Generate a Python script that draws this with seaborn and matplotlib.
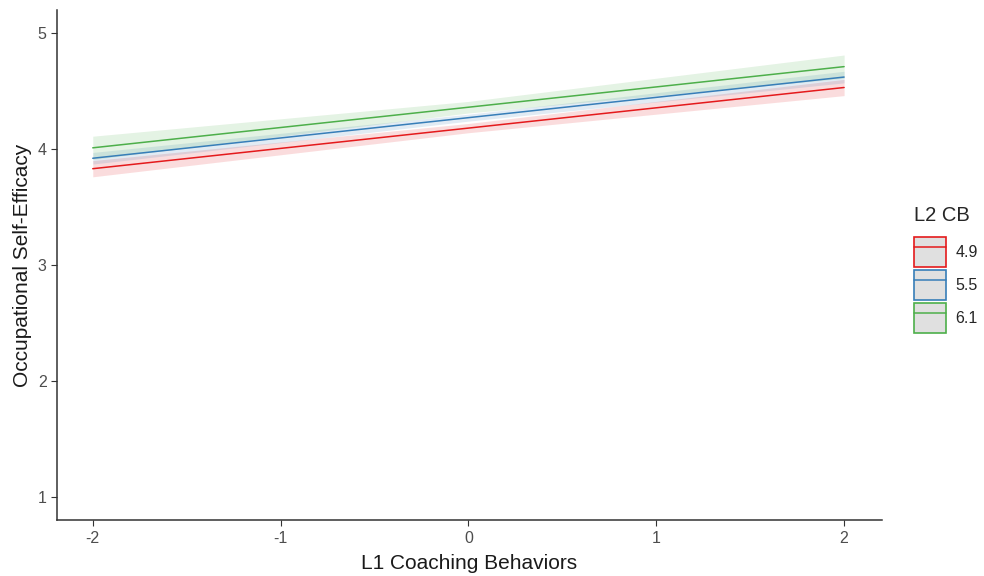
import numpy as np
import pandas as pd
import matplotlib
matplotlib.use("Agg")
import matplotlib.pyplot as plt
import seaborn as sns
from matplotlib.patches import Patch
from matplotlib.lines import Line2D

sns.set_style("white")
plt.rcParams['font.family'] = ['Liberation Sans', 'DejaVu Sans']
plt.rcParams['axes.unicode_minus'] = False

# predicted values at L1 coaching behaviours -2, 0, 2 for each L2 CB level
x_vals = [-2, 0, 2]
groups = ['4.9', '5.5', '6.1']
fit = {
    '4.9': [3.83, 4.18, 4.53],
    '5.5': [3.92, 4.27, 4.62],
    '6.1': [4.01, 4.36, 4.71],
}
lower = {
    '4.9': [3.76, 4.14, 4.46],
    '5.5': [3.87, 4.24, 4.57],
    '6.1': [3.91, 4.31, 4.61],
}
upper = {
    '4.9': [3.90, 4.22, 4.60],
    '5.5': [3.97, 4.30, 4.67],
    '6.1': [4.11, 4.41, 4.81],
}
colors = ['#E41A1C', '#377EB8', '#4DAF4A']

rows = []
for g in groups:
    for x, y in zip(x_vals, fit[g]):
        rows.append({'L1': x, 'OSE': y, 'L2 CB': g})
df = pd.DataFrame(rows)

fig = plt.figure(figsize=(9.84, 5.76), dpi=100)
ax = fig.add_axes([0.058, 0.097, 0.838, 0.886])

for g, c in zip(groups, colors):
    ax.fill_between(x_vals, lower[g], upper[g], color=c, alpha=0.15, linewidth=0)
sns.lineplot(data=df, x='L1', y='OSE', hue='L2 CB', palette=colors,
             linewidth=1.1, ax=ax, legend=False)

ax.set_xlim(-2.19, 2.2)
ax.set_ylim(0.8, 5.2)
ax.set_xticks([-2, -1, 0, 1, 2])
ax.set_yticks([1, 2, 3, 4, 5])
ax.set_xlabel('L1 Coaching Behaviors', fontsize=15, color='#1a1a1a', labelpad=6)
ax.set_ylabel('Occupational Self-Efficacy', fontsize=15, color='#1a1a1a', labelpad=4)
ax.tick_params(axis='both', labelsize=11.5, labelcolor='#4D4D4D', color='#333333',
               length=4, width=0.8, direction='out', bottom=True, left=True)
for s in ['top', 'right']:
    ax.spines[s].set_visible(False)
for s in ['left', 'bottom']:
    ax.spines[s].set_color('#333333')
    ax.spines[s].set_linewidth(1.1)

handles = [(Patch(facecolor='#E0E0E0', edgecolor=c, linewidth=1.2),
            Line2D([0], [0], color=c, linewidth=1.1)) for c in colors]
leg = fig.legend(handles, groups, title='L2 CB', loc='upper left',
                 bbox_to_anchor=(0.929, 0.643), frameon=False, fontsize=11.5,
                 title_fontsize=14.5, handlelength=2.0, handleheight=2.5,
                 labelspacing=0.2, handletextpad=0.6, borderpad=0,
                 borderaxespad=0)
leg._legend_box.align = 'left'
leg._legend_box.sep = 9

fig.savefig('out.png', dpi=100)
